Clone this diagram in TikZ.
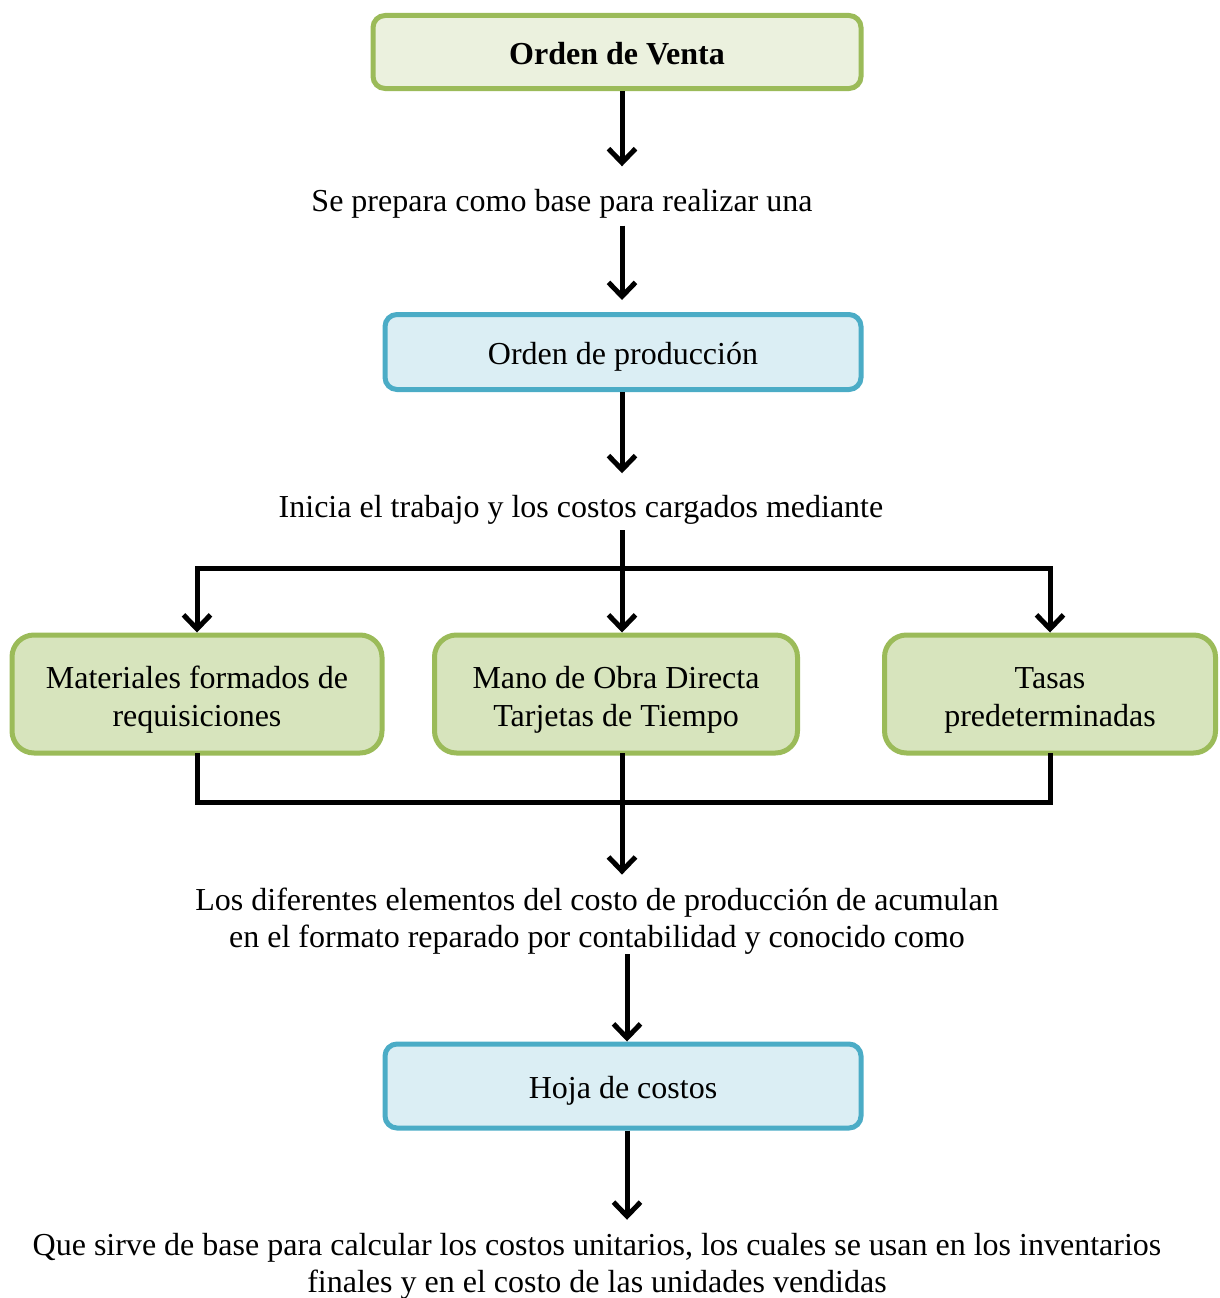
\documentclass[tikz,border=0pt]{standalone}
\usepackage{fontspec}
\setmainfont{Liberation Serif}
\usetikzlibrary{arrows.meta}

\definecolor{greenline}{HTML}{9BBB59}
\definecolor{greenpale}{HTML}{EBF1DE}
\definecolor{greenfill}{HTML}{D7E4BD}
\definecolor{blueline}{HTML}{4BACC6}
\definecolor{bluefill}{HTML}{DBEEF4}

\begin{document}
\begin{tikzpicture}[x=1pt, y=1pt]
\useasboundingbox (0,0) rectangle (1220,-1298);

\tikzset{GreenBox/.style = {
 draw = greenline, fill = greenfill,
 line width = 5pt, rounded corners = 22pt,
 minimum height = 118pt, align = center,
 text height = 72pt, text depth = 7pt,
 font = \fontsize{32}{38}\selectfont} }
\tikzset{BlueBox/.style = {
 draw = blueline, fill = bluefill,
 line width = 5pt, rounded corners = 12pt,
 minimum width = 476pt, align = center,
 text height = 25pt, text depth = 0pt,
 font = \fontsize{32}{38}\selectfont} }
\tikzset{NoteStyle/.style = {
 inner sep = 0pt, align = center,
 font = \fontsize{32}{37}\selectfont} }
\tikzset{LineStyle/.style = {line width = 5pt, line cap = rect} }
\tikzset{ArrowStyle/.style = {line width = 5pt,
 -{Straight Barb[length=14pt, width=27pt, line width=5pt]}} }

% top part
\node[BlueBox, draw = greenline, fill = greenpale,
 minimum width = 488pt, minimum height = 73pt,
 font = \fontsize{32}{38}\selectfont\bfseries] (OV) at (617, -52) {Orden de Venta};
\node[NoteStyle] (T1) at (562, -204) {Se prepara como base para realizar una};
\node[BlueBox, minimum height = 75pt] (OP) at (623, -352) {Orden de producción};
\node[NoteStyle] (T2) at (581, -510) {Inicia el trabajo y los costos cargados mediante};

% three elements
\node[GreenBox, minimum width = 370pt] (MAT) at (197, -694) {Materiales formados de\\requisiciones};
\node[GreenBox, minimum width = 363pt] (MOD) at (616, -694) {Mano de Obra Directa\\Tarjetas de Tiempo};
\node[GreenBox, minimum width = 331pt] (TAS) at (1050, -694) {Tasas\\predeterminadas};

% bottom part
\node[NoteStyle] (T3) at (597, -921) {Los diferentes elementos del costo de producción de acumulan\\en el formato reparado por contabilidad y conocido como};
\node[BlueBox, minimum height = 84pt] (HC) at (623, -1086) {Hoja de costos};
\node[NoteStyle] (T4) at (597, -1266) {Que sirve de base para calcular los costos unitarios, los cuales se usan en los inventarios\\finales y en el costo de las unidades vendidas};

\coordinate (SPLIT) at (622, -568);
\coordinate (JOIN) at (622, -802);

\draw[ArrowStyle, shorten > = 23pt] (OV.south -| 622, 0) -- (T1.north -| 622, 0);
\draw[ArrowStyle, shorten < = 7pt, shorten > = 12pt] (T1.south -| 622, 0) -- (OP.north -| 622, 0);
\draw[ArrowStyle, shorten > = 22pt] (OP.south -| 622, 0) -- (T2.north -| 622, 0);

\draw[LineStyle, shorten < = 8pt] (T2.south -| SPLIT) -- (SPLIT);
\draw[LineStyle] (MAT.north |- SPLIT) -- (TAS.north |- SPLIT);
\draw[ArrowStyle] (MAT.north |- SPLIT) -- (MAT.north);
\draw[ArrowStyle] (SPLIT) -- (SPLIT |- MOD.north);
\draw[ArrowStyle] (TAS.north |- SPLIT) -- (TAS.north);

\draw[LineStyle] (MAT.south) -- (MAT.south |- JOIN) -- (TAS.south |- JOIN) -- (TAS.south);
\draw[LineStyle] (JOIN |- MOD.south) -- (JOIN);
\draw[ArrowStyle, shorten > = 13pt] (JOIN) -- (JOIN |- T3.north);

\draw[ArrowStyle] (T3.south -| 627, 0) -- (HC.north -| 627, 0);
\draw[ArrowStyle, shorten > = 13pt] (HC.south -| 627, 0) -- (T4.north -| 627, 0);

\end{tikzpicture}
\end{document}
